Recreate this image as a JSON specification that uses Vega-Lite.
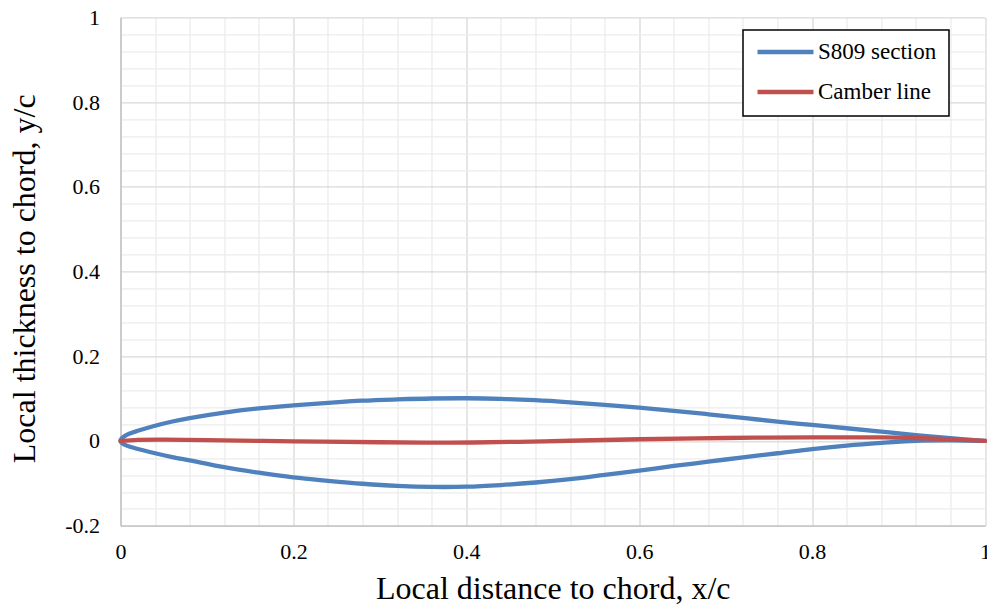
{
  "$schema": "https://vega.github.io/schema/vega-lite/v6.json",
  "width": 864.5,
  "height": 508.4,
  "autosize": {"type": "none"},
  "padding": {"left": 120.5, "top": 17.3, "right": 2, "bottom": 79.3},
  "background": "white",
  "config": {
    "view": {"stroke": null},
    "font": "Liberation Serif"
  },
  "data": {
    "values": [
      {"series": "S809 section", "i": 1, "x": 1.0, "y": 0.0},
      {"series": "S809 section", "i": 2, "x": 0.96, "y": 0.0064},
      {"series": "S809 section", "i": 3, "x": 0.92, "y": 0.014},
      {"series": "S809 section", "i": 4, "x": 0.88, "y": 0.022},
      {"series": "S809 section", "i": 5, "x": 0.84, "y": 0.030},
      {"series": "S809 section", "i": 6, "x": 0.80, "y": 0.0378},
      {"series": "S809 section", "i": 7, "x": 0.76, "y": 0.0456},
      {"series": "S809 section", "i": 8, "x": 0.72, "y": 0.0545},
      {"series": "S809 section", "i": 9, "x": 0.68, "y": 0.063},
      {"series": "S809 section", "i": 10, "x": 0.64, "y": 0.0712},
      {"series": "S809 section", "i": 11, "x": 0.60, "y": 0.0786},
      {"series": "S809 section", "i": 12, "x": 0.56, "y": 0.0852},
      {"series": "S809 section", "i": 13, "x": 0.52, "y": 0.0912},
      {"series": "S809 section", "i": 14, "x": 0.48, "y": 0.0962},
      {"series": "S809 section", "i": 15, "x": 0.44, "y": 0.0995},
      {"series": "S809 section", "i": 16, "x": 0.40, "y": 0.1008},
      {"series": "S809 section", "i": 17, "x": 0.36, "y": 0.1002},
      {"series": "S809 section", "i": 18, "x": 0.32, "y": 0.098},
      {"series": "S809 section", "i": 19, "x": 0.28, "y": 0.095},
      {"series": "S809 section", "i": 20, "x": 0.24, "y": 0.090},
      {"series": "S809 section", "i": 21, "x": 0.20, "y": 0.084},
      {"series": "S809 section", "i": 22, "x": 0.16, "y": 0.077},
      {"series": "S809 section", "i": 23, "x": 0.12, "y": 0.067},
      {"series": "S809 section", "i": 24, "x": 0.08, "y": 0.054},
      {"series": "S809 section", "i": 25, "x": 0.06, "y": 0.046},
      {"series": "S809 section", "i": 26, "x": 0.04, "y": 0.036},
      {"series": "S809 section", "i": 27, "x": 0.02, "y": 0.024},
      {"series": "S809 section", "i": 28, "x": 0.01, "y": 0.017},
      {"series": "S809 section", "i": 29, "x": 0.004, "y": 0.0105},
      {"series": "S809 section", "i": 30, "x": 0.001, "y": 0.005},
      {"series": "S809 section", "i": 31, "x": 0.0, "y": 0.0},
      {"series": "S809 section", "i": 32, "x": 0.001, "y": -0.004},
      {"series": "S809 section", "i": 33, "x": 0.004, "y": -0.008},
      {"series": "S809 section", "i": 34, "x": 0.01, "y": -0.013},
      {"series": "S809 section", "i": 35, "x": 0.02, "y": -0.019},
      {"series": "S809 section", "i": 36, "x": 0.04, "y": -0.029},
      {"series": "S809 section", "i": 37, "x": 0.06, "y": -0.038},
      {"series": "S809 section", "i": 38, "x": 0.08, "y": -0.046},
      {"series": "S809 section", "i": 39, "x": 0.12, "y": -0.062},
      {"series": "S809 section", "i": 40, "x": 0.16, "y": -0.075},
      {"series": "S809 section", "i": 41, "x": 0.20, "y": -0.086},
      {"series": "S809 section", "i": 42, "x": 0.24, "y": -0.094},
      {"series": "S809 section", "i": 43, "x": 0.28, "y": -0.101},
      {"series": "S809 section", "i": 44, "x": 0.32, "y": -0.106},
      {"series": "S809 section", "i": 45, "x": 0.36, "y": -0.1085},
      {"series": "S809 section", "i": 46, "x": 0.40, "y": -0.108},
      {"series": "S809 section", "i": 47, "x": 0.44, "y": -0.104},
      {"series": "S809 section", "i": 48, "x": 0.48, "y": -0.098},
      {"series": "S809 section", "i": 49, "x": 0.52, "y": -0.090},
      {"series": "S809 section", "i": 50, "x": 0.56, "y": -0.080},
      {"series": "S809 section", "i": 51, "x": 0.60, "y": -0.070},
      {"series": "S809 section", "i": 52, "x": 0.64, "y": -0.059},
      {"series": "S809 section", "i": 53, "x": 0.68, "y": -0.049},
      {"series": "S809 section", "i": 54, "x": 0.72, "y": -0.0385},
      {"series": "S809 section", "i": 55, "x": 0.76, "y": -0.029},
      {"series": "S809 section", "i": 56, "x": 0.80, "y": -0.019},
      {"series": "S809 section", "i": 57, "x": 0.84, "y": -0.011},
      {"series": "S809 section", "i": 58, "x": 0.88, "y": -0.0047},
      {"series": "S809 section", "i": 59, "x": 0.92, "y": 0.0005},
      {"series": "S809 section", "i": 60, "x": 0.96, "y": 0.0015},
      {"series": "S809 section", "i": 61, "x": 1.0, "y": 0.0},
      {"series": "Camber line", "i": 1, "x": 0.0, "y": 0.0},
      {"series": "Camber line", "i": 2, "x": 0.02, "y": 0.0025},
      {"series": "Camber line", "i": 3, "x": 0.05, "y": 0.003},
      {"series": "Camber line", "i": 4, "x": 0.1, "y": 0.002},
      {"series": "Camber line", "i": 5, "x": 0.2, "y": -0.001},
      {"series": "Camber line", "i": 6, "x": 0.3, "y": -0.003},
      {"series": "Camber line", "i": 7, "x": 0.38, "y": -0.004},
      {"series": "Camber line", "i": 8, "x": 0.46, "y": -0.002},
      {"series": "Camber line", "i": 9, "x": 0.52, "y": 0.0005},
      {"series": "Camber line", "i": 10, "x": 0.6, "y": 0.004},
      {"series": "Camber line", "i": 11, "x": 0.7, "y": 0.007},
      {"series": "Camber line", "i": 12, "x": 0.8, "y": 0.0085},
      {"series": "Camber line", "i": 13, "x": 0.88, "y": 0.0085},
      {"series": "Camber line", "i": 14, "x": 0.92, "y": 0.007},
      {"series": "Camber line", "i": 15, "x": 0.96, "y": 0.004},
      {"series": "Camber line", "i": 16, "x": 1.0, "y": 0.0}
    ]
  },
  "mark": {"type": "line", "strokeWidth": 4.3, "interpolate": "catmull-rom", "strokeCap": "round", "strokeJoin": "round"},
  "encoding": {
    "x": {
      "field": "x", "type": "quantitative",
      "scale": {"domain": [0, 1], "nice": false, "zero": false},
      "axis": {
        "values": [0, 0.04, 0.08, 0.12, 0.16, 0.2, 0.24, 0.28, 0.32, 0.36, 0.4, 0.44, 0.48, 0.52, 0.56, 0.6, 0.64, 0.68, 0.72, 0.76, 0.8, 0.84, 0.88, 0.92, 0.96, 1],
        "grid": true,
        "gridColor": {"condition": {"test": "abs(datum.value * 5 - round(datum.value * 5)) < 0.000001", "value": "#d9d9d9"}, "value": "#ececec"},
        "gridWidth": 1.3,
        "ticks": false,
        "domainColor": "#bfbfbf",
        "domainWidth": 1.3,
        "labelExpr": "abs(datum.value * 5 - round(datum.value * 5)) < 0.000001 ? '' + datum.value : ''",
        "labelFont": "Liberation Serif",
        "labelFontSize": 22,
        "labelColor": "black",
        "labelPadding": 16,
        "labelFlush": false,
        "labelOverlap": false,
        "title": "Local distance to chord, x/c",
        "titleFont": "Liberation Serif",
        "titleFontSize": 32,
        "titleFontWeight": "normal",
        "titleColor": "black",
        "titleBaseline": "alphabetic",
        "titleY": 73
      }
    },
    "y": {
      "field": "y", "type": "quantitative",
      "scale": {"domain": [-0.2, 1], "nice": false, "zero": false},
      "axis": {
        "values": [-0.2, -0.16, -0.12, -0.08, -0.04, 0, 0.04, 0.08, 0.12, 0.16, 0.2, 0.24, 0.28, 0.32, 0.36, 0.4, 0.44, 0.48, 0.52, 0.56, 0.6, 0.64, 0.68, 0.72, 0.76, 0.8, 0.84, 0.88, 0.92, 0.96, 1],
        "grid": true,
        "gridColor": {"condition": {"test": "abs(datum.value * 5 - round(datum.value * 5)) < 0.000001", "value": "#d9d9d9"}, "value": "#ececec"},
        "gridWidth": 1.3,
        "ticks": false,
        "domainColor": "#bfbfbf",
        "domainWidth": 1.3,
        "labelExpr": "abs(datum.value * 5 - round(datum.value * 5)) < 0.000001 ? '' + datum.value : ''",
        "labelFont": "Liberation Serif",
        "labelFontSize": 22,
        "labelColor": "black",
        "labelPadding": 21,
        "labelFlush": false,
        "labelOverlap": false,
        "title": "Local thickness to chord, y/c",
        "titleFont": "Liberation Serif",
        "titleFontSize": 32,
        "titleFontWeight": "normal",
        "titleColor": "black",
        "titleBaseline": "alphabetic",
        "titleAngle": -90,
        "titleX": -86,
        "titleY": 261
      }
    },
    "color": {
      "field": "series", "type": "nominal",
      "scale": {"domain": ["S809 section", "Camber line"], "range": ["#4F81BD", "#C0504D"]},
      "legend": {
        "orient": "none",
        "legendX": 622.5,
        "legendY": 12.7,
        "title": null,
        "symbolType": "stroke",
        "symbolSize": 3136,
        "symbolStrokeWidth": 4.3,
        "labelFont": "Liberation Serif",
        "labelFontSize": 23,
        "labelColor": "black",
        "labelOffset": 2,
        "strokeColor": "black",
        "fillColor": "white",
        "padding": 12,
        "clipHeight": 20,
        "rowPadding": 17,
        "encode": {
          "legend": {"update": {"strokeWidth": {"value": 1.5}}}
        }
      }
    },
    "order": {"field": "i", "type": "quantitative"}
  }
}
